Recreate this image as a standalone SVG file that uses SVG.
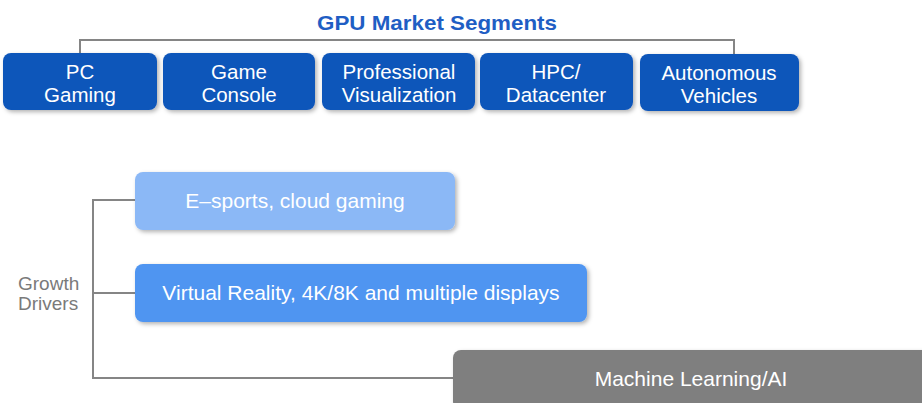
<svg xmlns="http://www.w3.org/2000/svg" width="922" height="403" viewBox="0 0 922 403">
  <defs>
    <filter id="shadow" x="-10%" y="-20%" width="125%" height="150%">
      <feDropShadow dx="2" dy="2" stdDeviation="2" flood-color="#000" flood-opacity="0.3"/>
    </filter>
  </defs>
  <style>
    text { font-family: "Liberation Sans", Arial, sans-serif; }
    .seg rect { fill: #1156BA; filter: url(#shadow); }
    .seg text { fill: #ffffff; font-size: 20.5px; text-anchor: middle; }
    .drv text { fill: #ffffff; font-size: 21px; text-anchor: middle; }
    .drv rect { filter: url(#shadow); }
    .line { fill: none; stroke: #858585; stroke-width: 2; }
    .title { fill: #1F5EC4; font-size: 21px; text-anchor: middle; }
    .label { fill: #7a7a7a; font-size: 19px; }
  </style>

  <rect width="922" height="403" fill="#ffffff"/>

  <text class="title" x="437" y="30" font-weight="bold" textLength="240" lengthAdjust="spacingAndGlyphs">GPU Market Segments</text>

  <!-- connectors -->
  <g id="connectors">
    <polyline class="line" points="80,53 80,40 734,40 734,54"/>
    <polyline class="line" points="135,200 93,200 93,378 453,378"/>
    <line class="line" x1="93" y1="293" x2="135" y2="293"/>
  </g>

  <!-- market segments -->
  <g id="pc-gaming" class="seg">
    <rect x="3" y="53" width="154" height="57" rx="8"/>
    <text x="80" y="79">PC</text>
    <text x="80" y="102">Gaming</text>
  </g>
  <g id="game-console" class="seg">
    <rect x="163" y="53" width="152" height="57" rx="8"/>
    <text x="239" y="79">Game</text>
    <text x="239" y="102">Console</text>
  </g>
  <g id="professional-visualization" class="seg">
    <rect x="322" y="53" width="153" height="57" rx="8"/>
    <text x="399" y="79">Professional</text>
    <text x="399" y="102">Visualization</text>
  </g>
  <g id="hpc-datacenter" class="seg">
    <rect x="480" y="53" width="153" height="57" rx="8"/>
    <text x="556" y="79">HPC/</text>
    <text x="556" y="102">Datacenter</text>
  </g>
  <g id="autonomous-vehicles" class="seg">
    <rect x="640" y="54" width="159" height="57" rx="8"/>
    <text x="719" y="80">Autonomous</text>
    <text x="719" y="103">Vehicles</text>
  </g>

  <!-- growth drivers -->
  <g id="growth-drivers">
    <text class="label" x="18" y="290">Growth</text>
    <text class="label" x="18" y="310">Drivers</text>
  </g>
  <g id="esports" class="drv">
    <rect x="135" y="172" width="320" height="58" rx="8" fill="#8BB8F6"/>
    <text x="295" y="208">E–sports, cloud gaming</text>
  </g>
  <g id="vr-displays" class="drv">
    <rect x="135" y="264" width="452" height="58" rx="8" fill="#4F95F1"/>
    <text x="361" y="300">Virtual Reality, 4K/8K and multiple displays</text>
  </g>
  <g id="machine-learning" class="drv">
    <rect x="453" y="350" width="480" height="60" rx="8" fill="#7F7F7F"/>
    <text x="691" y="386">Machine Learning/AI</text>
  </g>
</svg>
